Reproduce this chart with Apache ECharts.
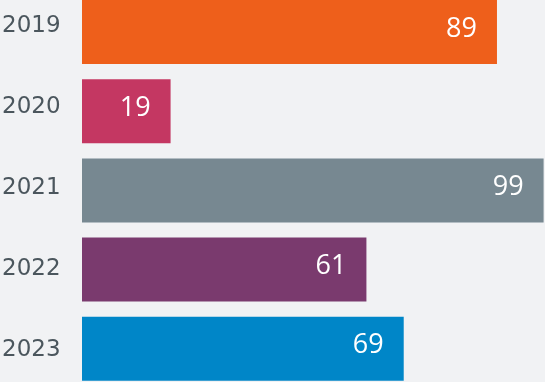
<!DOCTYPE html>
<html>
<head>
<meta charset="utf-8">
<script src="https://cdn.jsdelivr.net/npm/echarts@6/dist/echarts.min.js"></script>
<style>
html,body{margin:0;padding:0;background:#f1f2f4;}
#c{width:545px;height:382px;}
</style>
</head>
<body>
<div id="c"></div>
<script>
const categories = ['2019', '2020', '2021', '2022', '2023'];
const values = [89, 19, 99, 61, 69];
const barColors = ['#ee5f1b', '#c43762', '#778891', '#7a3a6e', '#0086c8'];

const chart = echarts.init(document.getElementById('c'), null, {renderer: 'canvas'});
chart.setOption({
  backgroundColor: '#f1f2f4',
  animation: false,
  grid: [
    {left: 82, right: 0, top: -7.6, height: 396, outerBoundsMode: 'none', containLabel: false},
    {left: 0, right: 0, top: -14.6, height: 405, outerBoundsMode: 'none', containLabel: false}
  ],
  xAxis: [
    {gridIndex: 0, type: 'value', min: 0, max: 99.3, show: false},
    {gridIndex: 1, type: 'value', min: 0, max: 1, show: false}
  ],
  yAxis: [
    {gridIndex: 0, type: 'category', data: categories, inverse: true,
     axisLine: {show: false}, axisTick: {show: false}, axisLabel: {show: false}, splitLine: {show: false}},
    {gridIndex: 1, type: 'category', data: categories, inverse: true, position: 'left',
     axisLine: {show: false}, axisTick: {show: false}, splitLine: {show: false},
     axisLabel: {show: true, inside: true, align: 'left', margin: 2,
       color: '#4b565d', fontSize: 23, fontFamily: 'DejaVu Sans'}}
  ],
  series: [{
    type: 'bar',
    xAxisIndex: 0, yAxisIndex: 0,
    data: values.map((v, i) => ({value: v, itemStyle: {color: barColors[i]}})),
    barWidth: 64,
    label: {
      show: true, position: 'insideRight', distance: 20, offset: [0, -3],
      color: '#ffffff', fontSize: 27, fontFamily: 'Open Sans', fontWeight: 'normal'
    }
  }]
});
</script>
</body>
</html>
